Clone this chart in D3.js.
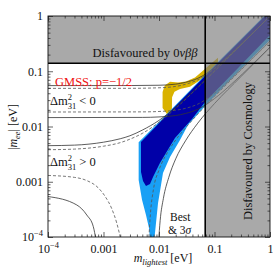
<!DOCTYPE html>
<html><head><meta charset="utf-8">
<script src="https://cdn.jsdelivr.net/npm/d3@7"></script>
<style>
body{margin:0;background:#fff}
svg{display:block}
text{font-family:"Liberation Serif","Times New Roman",serif;fill:#111}
</style>
</head><body>
<svg id="c" width="273" height="274"></svg>
<script>
// ---- data (m_lightest [eV], |m_ee| [eV]) ----
const xTicks = [1e-4, 1e-3, 1e-2, 1e-1, 1];
const yTicks = [1e-4, 1e-3, 1e-2, 1e-1, 1];
const tickLabels = ["10^-4", "0.001", "0.01", "0.1", "1"];
const limit0vbb = 0.14;
const limitCosmo = 0.068;

const nhBestMax = [[1e-4,0.0038],[3e-4,0.0039],[1e-3,0.0044],[2e-3,0.0051],[3e-3,0.0059],[5e-3,0.0075],[1e-2,0.0119],[2e-2,0.0213],[5e-2,0.0507],[0.1,0.1004],[0.3,0.3],[1.5,1.5]];
const nh3sMax = [[1e-4,0.0045],[3e-4,0.0046],[1e-3,0.0052],[2e-3,0.0060],[3e-3,0.0068],[5e-3,0.0086],[1e-2,0.0129],[2e-2,0.0223],[5e-2,0.0516],[0.1,0.101],[0.3,0.3],[1.5,1.5]];
const nhBestMinA = [[1e-4,0.0013],[3e-4,0.0012],[5e-4,0.00105],[8e-4,0.00078],[1.06e-3,0.00055],[1.4e-3,0.00033],[1.73e-3,0.00018],[2.05e-3,0.00009]];
const nhBestMinB = [[6.5e-3,0.00008],[7e-3,0.00026],[8e-3,0.00076],[1e-2,0.00163],[1.5e-2,0.0037],[2e-2,0.0057],[3e-2,0.0094],[5e-2,0.0168],[0.1,0.0346],[0.2,0.07],[0.5,0.175],[1.5,0.52]];
const nh3sMinA = [[1e-4,0.00054],[3.3e-4,0.00038],[5e-4,0.00025],[6.55e-4,0.000154],[7.3e-4,0.00009]];
const nh3sMinB = [[0.0098,0.00008],[0.0105,0.0002],[0.012,0.0005],[0.015,0.0012],[0.02,0.0026],[0.03,0.0055],[0.05,0.0115],[0.1,0.026],[0.3,0.08],[1.5,0.41]];
const ihBestMax = [[1e-4,0.049],[3e-3,0.0491],[1e-2,0.0502],[2e-2,0.0532],[3e-2,0.058],[5e-2,0.070],[0.1,0.1115],[0.2,0.206],[0.5,0.5],[1.5,1.5]];
const ih3sMax = [[1e-4,0.055],[3e-3,0.0551],[1e-2,0.0558],[2e-2,0.0584],[3e-2,0.063],[5e-2,0.0745],[0.1,0.115],[0.2,0.208],[0.5,0.5],[1.5,1.5]];
const ihBestMin = [[1e-4,0.0183],[5e-3,0.0184],[1e-2,0.0187],[2e-2,0.0197],[3e-2,0.0213],[5e-2,0.0254],[0.1,0.04],[0.2,0.073],[0.5,0.178],[1.5,0.53]];
const ih3sMin = [[1e-4,0.0145],[5e-3,0.0146],[1e-2,0.0149],[2e-2,0.0158],[3e-2,0.0172],[5e-2,0.0205],[0.1,0.032],[0.2,0.058],[0.5,0.138],[1.5,0.41]];

// model regions (polygons)
const gmssYellow = [[0.0139,0.0168],[0.0116,0.0216],[0.0116,0.042],[0.0127,0.055],[0.0158,0.0645],[0.022,0.0625],[0.0306,0.065],[0.0446,0.077],[0.0596,0.0985],[0.083,0.133],[0.1156,0.176],
                    [0.1156,0.14],[0.083,0.10],[0.0548,0.0685],[0.0362,0.0525],[0.0239,0.0475],[0.019,0.0425],[0.0172,0.034],[0.0171,0.0216],[0.0168,0.0172]];
const bestDark = [[0.00474,0.00524],[0.0128,0.0149],[0.0675,0.082],[0.813,1.0],[1.6,1.97],
                  [1.6,0.72],[1.0,0.453],[0.288,0.124],[0.0675,0.0277],[0.0394,0.0137],[0.0194,0.0062],[0.0104,0.00218],[0.0078,0.00122],[0.00689,0.00091],[0.00583,0.00084],[0.00515,0.00103],[0.00474,0.0015]];
const sigmaLight = [[0.0043,0.0052],[0.0125,0.0152],[0.066,0.084],[0.8,1.02],[1.6,2.0],
                    [1.6,0.59],[1.0,0.368],[0.288,0.105],[0.0675,0.0235],[0.0333,0.0106],[0.0239,0.0057],[0.0158,0.0028],[0.0118,0.00144],[0.0096,0.00041],[0.00847,0.000118],[0.0081,0.00009],
                    [0.00689,0.00009],[0.0066,0.000146],[0.00583,0.00025],[0.00494,0.00047],[0.0043,0.00108]];

// ---- layout ----
const L=48, R=270, T=16, B=237;
const svg = d3.select("#c");
const x = d3.scaleLog().domain([1e-4,1]).range([L,R]);
const y = d3.scaleLog().domain([1e-4,1]).range([B,T]);

svg.append("defs").append("clipPath").attr("id","clip")
  .append("rect").attr("x",L).attr("y",T).attr("width",R-L).attr("height",B-T);
const g = svg.append("g").attr("clip-path","url(#clip)");

const poly = d3.line().x(d=>x(d[0])).y(d=>y(d[1])).curve(d3.curveLinearClosed);
const curve = d3.line().x(d=>x(d[0])).y(d=>y(d[1])).curve(d3.curveMonotoneX);

g.append("path").attr("d",poly(gmssYellow)).attr("fill","#d9b200");
g.append("path").attr("d",poly(sigmaLight)).attr("fill","#19a0f5");
g.append("path").attr("d",poly(bestDark)).attr("fill","#0000a8");

const solids = [nh3sMax, nh3sMinA, nh3sMinB, ih3sMax, ih3sMin];
const dashes = [nhBestMax, nhBestMinA, nhBestMinB, ihBestMax, ihBestMin];
solids.forEach(s => g.append("path").attr("d",curve(s)).attr("fill","none").attr("stroke","#333").attr("stroke-width",0.8));
dashes.forEach(s => g.append("path").attr("d",curve(s)).attr("fill","none").attr("stroke","#555").attr("stroke-width",0.8).attr("stroke-dasharray","3,2"));

// disfavoured regions (L-shaped, single translucent overlay)
const greyPoly = [[1e-4,1],[1,1],[1,1e-4],[limitCosmo,1e-4],[limitCosmo,limit0vbb],[1e-4,limit0vbb]];
g.append("path").attr("d",poly(greyPoly)).attr("fill","#7d7d7d").attr("fill-opacity",0.66);

g.append("line").attr("x1",L).attr("x2",R).attr("y1",y(limit0vbb)).attr("y2",y(limit0vbb)).attr("stroke","#000").attr("stroke-width",1.6);
g.append("line").attr("x1",x(limitCosmo)).attr("x2",x(limitCosmo)).attr("y1",T).attr("y2",B).attr("stroke","#000").attr("stroke-width",1.6);

// ---- axes (ticks inside, all four sides) ----
const minor = [];
for (let e=-4; e<0; e++) for (let k=2; k<10; k++) minor.push(k*Math.pow(10,e));

function styleAxis(sel){
  sel.select(".domain").remove();
  sel.selectAll("line").attr("stroke","#222").attr("stroke-width",0.7);
}
function fmtLabels(sel){
  sel.selectAll("text").each(function(d,i){
    const t = d3.select(this);
    const lab = tickLabels[xTicks.indexOf(d)];
    t.text(null).style("font-size","12px").attr("fill","#111");
    if (lab.startsWith("10^")) {
      t.append("tspan").text("10");
      t.append("tspan").text("−4").attr("dy","-5").style("font-size","8.5px");
    } else t.text(lab);
  });
}
const ax = [
  [d3.axisBottom(x), d3.axisBottom(x), `translate(0,${B})`, true],
  [d3.axisTop(x), d3.axisTop(x), `translate(0,${T})`, false],
  [d3.axisLeft(y), d3.axisLeft(y), `translate(${L},0)`, true],
  [d3.axisRight(y), d3.axisRight(y), `translate(${R},0)`, false]
];
ax.forEach(([aMin,aMaj,tr,lab],i)=>{
  const gm = svg.append("g").attr("transform",tr)
    .call(aMin.tickValues(minor).tickSize(-2.5).tickFormat(""));
  styleAxis(gm);
  const gM = svg.append("g").attr("transform",tr)
    .call(aMaj.tickValues(i<2 ? xTicks : yTicks).tickSize(-5).tickPadding(i<2?7:5).tickFormat(lab? (d=>String(d)) : ""));
  styleAxis(gM);
  if (lab) fmtLabels(gM);
});

svg.append("rect").attr("x",L).attr("y",T).attr("width",R-L).attr("height",B-T)
  .attr("fill","none").attr("stroke","#111").attr("stroke-width",0.9);

// ---- texts ----
const t1 = svg.append("text").attr("x",145).attr("y",57).attr("text-anchor","middle").style("font-size","12.5px");
t1.append("tspan").text("Disfavoured by 0");
t1.append("tspan").text("νββ").style("font-style","italic");

svg.append("text").attr("transform","translate(252,151) rotate(-90)").attr("text-anchor","middle")
  .style("font-size","12.5px").text("Disfavoured by Cosmology");

svg.append("text").attr("x",55).attr("y",86).style("font-size","12.5px").style("fill","#f01010").text("GMSS: p=−1/2");

function delta(xp, yp, sign){
  const t = svg.append("text").attr("x",xp).attr("y",yp).style("font-size","12.5px");
  t.append("tspan").text("Δm");
  t.append("tspan").text("2").attr("dy",-5).style("font-size","8.5px");
  t.append("tspan").text("31").attr("dx",-4.3).attr("dy",8.5).style("font-size","8.5px");
  t.append("tspan").text(" " + sign + " 0").attr("dy",-3.5);
}
delta(50,105,"<");
delta(50,166,">");

svg.append("text").attr("x",170).attr("y",220.5).style("font-size","11.5px").text("Best");
const t3 = svg.append("text").attr("x",168).attr("y",233.5).style("font-size","11.5px");
t3.append("tspan").text("& 3");
t3.append("tspan").text("σ").style("font-style","italic");

const xl = svg.append("text").attr("x",163).attr("y",262).attr("text-anchor","middle").style("font-size","12px");
xl.append("tspan").text("m").style("font-style","italic");
xl.append("tspan").text("lightest").attr("dy",3).style("font-size","8.5px").style("font-style","italic");
xl.append("tspan").text(" [eV]").attr("dy",-3);

const yl = svg.append("text").attr("transform","translate(17,127) rotate(-90)").attr("text-anchor","middle").style("font-size","12px");
yl.append("tspan").text("|");
yl.append("tspan").text("m").style("font-style","italic");
yl.append("tspan").text("ee").attr("dy",3).style("font-size","8.5px").style("font-style","italic");
yl.append("tspan").text("| [eV]").attr("dy",-3);
</script>
</body></html>
